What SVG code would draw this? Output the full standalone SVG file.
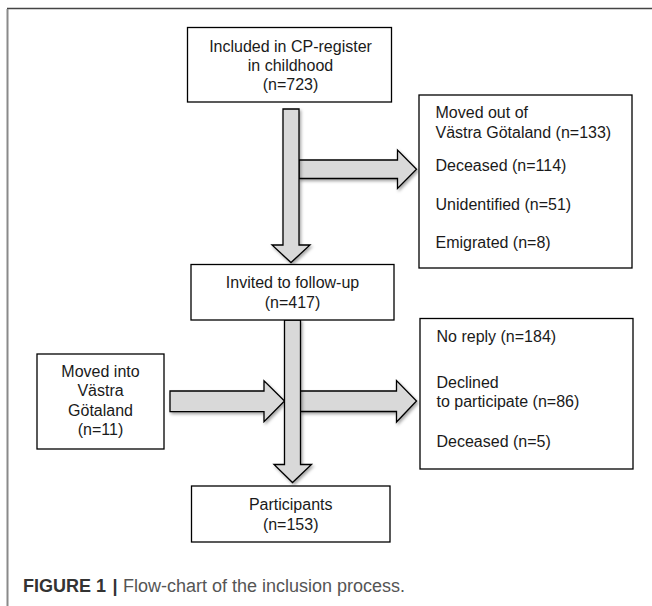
<svg xmlns="http://www.w3.org/2000/svg" width="652" height="606" viewBox="0 0 652 606">
<defs>
<style>
.box{fill:#fff;stroke:#000;stroke-width:1.3}
.arr{fill:#d9d9d9;stroke:#000;stroke-width:1.3;stroke-linejoin:miter}
.t{font-family:"Liberation Sans",Arial,sans-serif;font-size:16px;fill:#1a1a1a}
.c{text-anchor:middle}
.cap{font-family:"Liberation Sans",Arial,sans-serif;font-size:18px}
</style>
<filter id="sh" x="-20%" y="-20%" width="150%" height="150%">
<feDropShadow dx="1.5" dy="2" stdDeviation="1.5" flood-color="#000" flood-opacity="0.35"/>
</filter>
</defs>
<rect width="652" height="606" fill="#fff"/>
<line x1="7" y1="8.5" x2="652" y2="8.5" stroke="#444" stroke-width="1.5"/>
<line x1="7.5" y1="9" x2="7.5" y2="606" stroke="#8a8a8a" stroke-width="2"/>

<g id="connectors">
<path class="arr" filter="url(#sh)" d="M299,160 H397.5 V150 L416.5,169.3 L397.5,188.5 V178.5 H299 Z"/>
<path class="arr" filter="url(#sh)" d="M283,109 H299 V245 H310 L291,262.5 L272,245 H283 Z"/>
<path class="arr" filter="url(#sh)" d="M170,391 H264 V380.7 L284.5,401 L264,421.7 V411.7 H170 Z"/>
<path class="arr" filter="url(#sh)" d="M300,391 H396.5 V380.5 L416.5,401 L396.5,422 V411.5 H300 Z"/>
<path class="arr" filter="url(#sh)" d="M284.5,320 H300.5 V464.5 H311.5 L292.5,482.5 L274,464.5 H284.5 Z"/>
</g>

<g id="included">
<rect class="box" x="187.5" y="27.5" width="204" height="74.5"/>
<text class="t c" x="290.5" y="52">Included in CP-register</text>
<text class="t c" x="290.5" y="71">in childhood</text>
<text class="t c" x="290.5" y="90">(n=723)</text>
</g>

<g id="excluded1">
<rect class="box" x="419" y="95" width="213" height="173"/>
<text class="t" x="435.5" y="118">Moved out of</text>
<text class="t" x="435.5" y="138">Västra Götaland (n=133)</text>
<text class="t" x="435.5" y="170.5">Deceased (n=114)</text>
<text class="t" x="435.5" y="210">Unidentified (n=51)</text>
<text class="t" x="435.5" y="248">Emigrated (n=8)</text>
</g>

<g id="invited">
<rect class="box" x="191" y="264.5" width="203" height="55.5"/>
<text class="t c" x="292.5" y="288">Invited to follow-up</text>
<text class="t c" x="292.5" y="308">(n=417)</text>
</g>

<g id="movedin">
<rect class="box" x="37" y="354" width="127" height="95"/>
<text class="t c" x="100.5" y="376.5">Moved into</text>
<text class="t c" x="100.5" y="396">Västra</text>
<text class="t c" x="100.5" y="415.5">Götaland</text>
<text class="t c" x="100.5" y="435">(n=11)</text>
</g>

<g id="excluded2">
<rect class="box" x="420" y="318.5" width="213" height="150.5"/>
<text class="t" x="436.5" y="341.5">No reply (n=184)</text>
<text class="t" x="436.5" y="387.5">Declined</text>
<text class="t" x="436.5" y="406.5">to participate (n=86)</text>
<text class="t" x="436.5" y="446.5">Deceased (n=5)</text>
</g>

<g id="participants">
<rect class="box" x="191.5" y="486" width="198.5" height="56"/>
<text class="t c" x="290.7" y="510">Participants</text>
<text class="t c" x="290.7" y="530">(n=153)</text>
</g>

<g id="caption">
<text class="cap" x="23" y="591.5" font-weight="bold" fill="#333">FIGURE 1</text>
<text class="cap" x="112.5" y="591.5" font-weight="bold" fill="#333">|</text>
<text class="cap" x="123" y="591.5" fill="#555">Flow-chart of the inclusion process.</text>
</g>
</svg>
